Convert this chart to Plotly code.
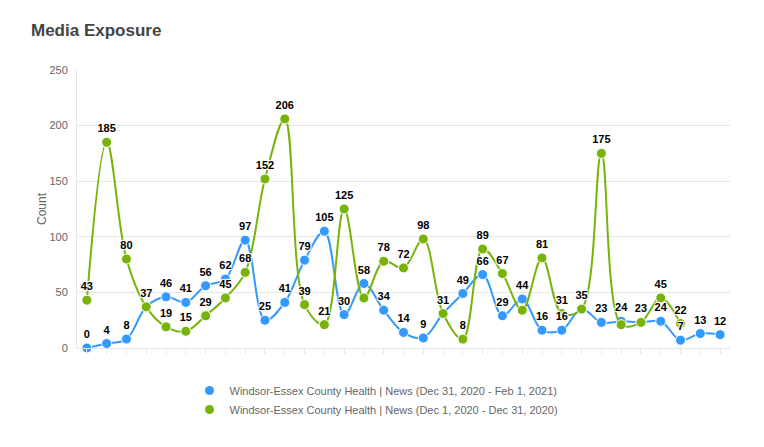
import plotly.graph_objects as go

days = list(range(33))

blue_name = "Windsor-Essex County Health | News (Dec 31, 2020 - Feb 1, 2021)"
green_name = "Windsor-Essex County Health | News (Dec 1, 2020 - Dec 31, 2020)"

blue_values = [0, 4, 8, 37, 46, 41, 56, 62, 97, 25, 41, 79, 105, 30, 58, 34, 14, 9,
               31, 49, 66, 29, 44, 16, 16, 35, 23, 24, 23, 24, 7, 13, 12]
green_values = [43, 185, 80, 37, 19, 15, 29, 45, 68, 152, 206, 39, 21, 125, 45, 78,
                72, 98, 31, 8, 89, 67, 34, 81, 31, 35, 175, 21, 23, 45, 22]

# labels hidden in the reference because they overlap others
blue_hidden = [3, 18, 25, 28]
green_hidden = [14, 22, 27]

blue_color = "#3399ff"
green_color = "#78b30a"

blue_text = ["" if i in blue_hidden else str(v) for i, v in enumerate(blue_values)]
green_text = ["" if i in green_hidden else str(v) for i, v in enumerate(green_values)]

font_family = "Liberation Sans, Arial, sans-serif"
label_font = dict(family=font_family, size=11, color="#000000", weight="bold",
                  shadow="1px 1px 1px #fff, -1px -1px 1px #fff, 1px -1px 1px #fff, -1px 1px 1px #fff")

fig = go.Figure()

# series lines and markers
for vals, color, name in [(blue_values, blue_color, blue_name),
                          (green_values, green_color, green_name)]:
    fig.add_trace(go.Scatter(
        x=days[:len(vals)], y=vals, mode="lines+markers",
        line=dict(color=color, width=2, shape="spline", smoothing=1.0),
        marker=dict(color=color, size=10, line=dict(color="white", width=1)),
        showlegend=False, cliponaxis=False, name=name,
    ))

# data labels drawn above all series
for vals, texts, color, name in [(blue_values, blue_text, blue_color, blue_name),
                                 (green_values, green_text, green_color, green_name)]:
    fig.add_trace(go.Scatter(
        x=days[:len(vals)], y=vals, mode="markers+text",
        marker=dict(color=color, size=10, opacity=0),
        text=texts, textposition="top center", textfont=label_font,
        showlegend=False, cliponaxis=False, hoverinfo="skip", name=name,
    ))

# legend-only entries (dot symbols)
fig.add_trace(go.Scatter(x=[None], y=[None], mode="markers", name=blue_name,
                         marker=dict(color=blue_color, size=9), legendrank=1))
fig.add_trace(go.Scatter(x=[None], y=[None], mode="markers", name=green_name,
                         marker=dict(color=green_color, size=9), legendrank=2))

fig.update_layout(
    width=764, height=447,
    paper_bgcolor="white", plot_bgcolor="white",
    margin=dict(l=77, r=34, t=70, b=99, autoexpand=False),
    font=dict(family=font_family, color="#666666"),
    title=dict(text="<b>Media Exposure</b>", x=31 / 764, xref="container", xanchor="left",
               y=1 - 30 / 447, yref="container", yanchor="middle",
               pad=dict(l=0, r=0, t=0, b=0),
               font=dict(size=17, color="#444444", family=font_family)),
    legend=dict(orientation="h", x=0.5, xref="container", xanchor="center",
                y=1 - 376 / 447, yref="container", yanchor="top",
                font=dict(size=11, color="#666666", family=font_family),
                entrywidth=340, entrywidthmode="pixels", itemwidth=30,
                tracegroupgap=0),
    showlegend=True,
)

fig.update_xaxes(range=[-0.5, 32.5], showgrid=False, showline=True, linecolor="#e6e6e6",
                 linewidth=1, ticks="outside", ticklen=5, tickcolor="#e6e6e6",
                 tickmode="array", tickvals=days, showticklabels=False, zeroline=False,
                 fixedrange=True)
fig.update_yaxes(range=[0, 250], tickvals=[0, 50, 100, 150, 200, 250],
                 showgrid=True, gridcolor="#e6e6e6", gridwidth=1, zeroline=False,
                 showline=True, linecolor="#e6e6e6", linewidth=1,
                 tickfont=dict(size=11, color="#666666"), ticks="", ticklabelstandoff=6,
                 title=dict(text="Count", font=dict(size=12, color="#666666"), standoff=0))

fig.write_html("out.html", config={"displayModeBar": False},
               post_script="document.body.style.margin='0';")
